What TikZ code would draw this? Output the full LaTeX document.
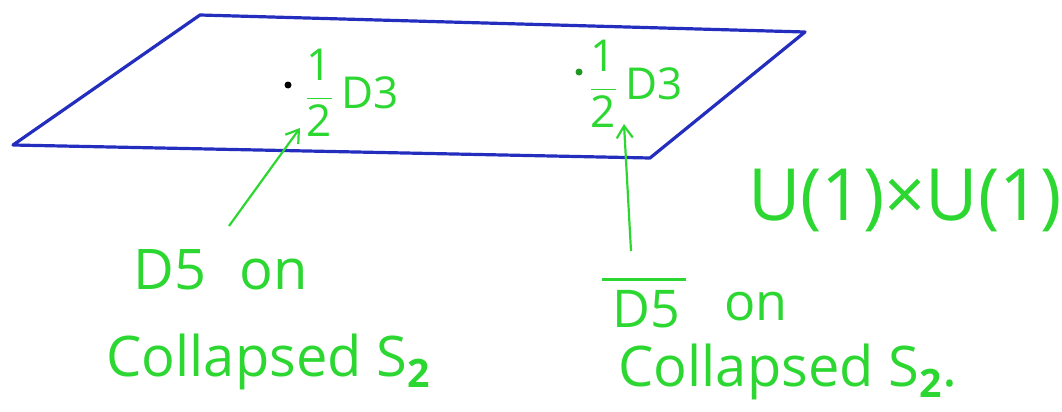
\documentclass[tikz,border=0pt]{standalone}
\usepackage{fontspec}
\setmainfont{Open Sans}
\usetikzlibrary{arrows.meta}
\definecolor{pen}{RGB}{45,215,50}
\definecolor{ink}{RGB}{35,45,190}
\newcommand{\halfd}{$\displaystyle\frac{\mbox{1}}{\mbox{2}}$\,D3}
\tikzset{
  lbl/.style={text=pen, inner sep=0pt, font=\fontsize{28}{30}\selectfont},
  small/.style={text=pen, inner sep=0pt, font=\fontsize{22}{24}\selectfont},
  big/.style={text=pen, inner sep=0pt, font=\fontsize{36}{38}\selectfont},
  plane/.style={draw=ink, line width=1.6pt, line join=round},
  pointer/.style={draw=pen, line width=1.1pt, -{Straight Barb[length=6pt,width=8pt]}},
  dotmark/.style={circle, fill=black, inner sep=0pt, minimum size=3.5pt},
  barline/.style={draw=pen, line width=1.3pt}
}
\begin{document}
\begin{tikzpicture}[x=0.5pt,y=-0.5pt]
\useasboundingbox (0,0) rectangle (1062,412);
% plane
\coordinate (p1) at (200,15);
\coordinate (p2) at (805,32);
\coordinate (p3) at (650,158);
\coordinate (p4) at (13,145);
\draw[plane] (p1) -- (p2) -- (p3) -- (p4) -- cycle;
% dots and labels
\node[dotmark] (d1) at (288,85) {};
\node[dotmark, fill=pen!70!black] (d2) at (579,72) {};
\node[small, anchor=west] (h1) at (304,93) {\halfd};
\node[small, anchor=west] (h2) at (588,84) {\halfd};
% group
\node[big] (u) at (905,200) {U(1)×U(1)};
% left label
\node[lbl, anchor=west] (l1) at (133,270) {D5\hspace{0.6em}on};
\node[lbl, anchor=west] (l2) at (106,362) {Collapsed S$_{\mathbf 2}$};
% right label
\node[lbl, anchor=west, font=\fontsize{26}{28}\selectfont] (r1a) at (612,309) {D5};
\node[lbl, anchor=west, font=\fontsize{26}{28}\selectfont] (r1b) at (724,307) {on};
\draw[barline] ([xshift=-5pt,yshift=5pt]r1a.north west) -- ([xshift=3pt,yshift=5pt]r1a.north east);
\node[lbl, anchor=west] (r2) at (618,372) {Collapsed S$_{\mathbf 2}$.};
% arrows
\coordinate (a1) at (229,226);
\coordinate (a1t) at (300,128);
\coordinate (a2) at (631,251);
\coordinate (a2t) at (624,124);
\draw[pointer] (a1) -- (a1t);
\draw[pointer] (a2) -- (a2t);
\end{tikzpicture}
\end{document}
